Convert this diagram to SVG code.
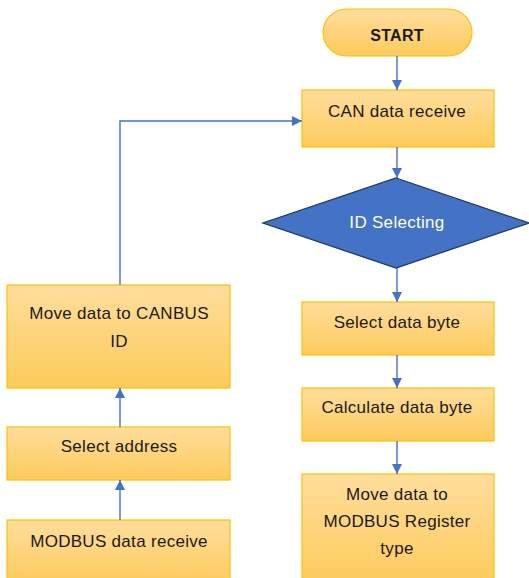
<svg xmlns="http://www.w3.org/2000/svg" width="529" height="578" viewBox="0 0 529 578">
<defs>
<linearGradient id="g" x1="0" y1="0" x2="0" y2="1">
<stop offset="0" stop-color="#FFDD9C"/>
<stop offset="1" stop-color="#FDCB5C"/>
</linearGradient>
<marker id="a" viewBox="0 0 10 10" refX="10" refY="5" markerWidth="10" markerHeight="10" markerUnits="userSpaceOnUse" orient="auto">
<path d="M0,0 L10,5 L0,10 z" fill="#4472C4"/>
</marker>
<style>
.box{fill:url(#g);stroke:#FFC000;stroke-width:1.2}
.t{font-family:"Liberation Sans",Arial,sans-serif;font-size:17px;letter-spacing:0.3px;fill:#1a1a1a;text-anchor:middle}
.c{fill:none;stroke:#4472C4;stroke-width:1.4}
</style>
</defs>
<rect width="529" height="578" fill="#ffffff"/>
<g id="start">
<rect class="box" x="323" y="9" width="149" height="47" rx="23.5"/>
<text class="t" x="397" y="41" font-weight="bold" style="font-size:16px">START</text>
</g>
<g id="can-receive">
<rect class="box" x="302" y="90" width="192" height="57"/>
<text class="t" x="397" y="117">CAN data receive</text>
</g>
<g id="id-selecting">
<polygon points="396,178 529,223 396,268 263,223" fill="#4472C4" stroke="#1F3864" stroke-width="1.3"/>
<text class="t" x="397" y="228" style="fill:#ffffff">ID Selecting</text>
</g>
<g id="select-byte">
<rect class="box" x="302" y="302" width="192" height="53"/>
<text class="t" x="397" y="328">Select data byte</text>
</g>
<g id="calc-byte">
<rect class="box" x="302" y="388" width="192" height="53"/>
<text class="t" x="397" y="413">Calculate data byte</text>
</g>
<g id="move-modbus">
<rect class="box" x="302" y="474" width="192" height="110"/>
<text class="t" x="397" y="500">Move data to</text>
<text class="t" x="397" y="527">MODBUS Register</text>
<text class="t" x="397" y="554">type</text>
</g>
<g id="move-canbus">
<rect class="box" x="7" y="285" width="223" height="103"/>
<text class="t" x="119" y="319">Move data to CANBUS</text>
<text class="t" x="119" y="347">ID</text>
</g>
<g id="select-address">
<rect class="box" x="7" y="427" width="223" height="53"/>
<text class="t" x="119" y="452">Select address</text>
</g>
<g id="modbus-receive">
<rect class="box" x="7" y="520" width="223" height="65"/>
<text class="t" x="119" y="547">MODBUS data receive</text>
</g>
<g id="connectors">
<line class="c" x1="397" y1="56" x2="397" y2="90" marker-end="url(#a)"/>
<line class="c" x1="397" y1="147" x2="397" y2="178" marker-end="url(#a)"/>
<line class="c" x1="397" y1="268" x2="397" y2="302" marker-end="url(#a)"/>
<line class="c" x1="397" y1="355" x2="397" y2="388" marker-end="url(#a)"/>
<line class="c" x1="397" y1="441" x2="397" y2="474" marker-end="url(#a)"/>
<line class="c" x1="397" y1="578" x2="397" y2="584"/>
<polyline class="c" points="120,285 120,121 302,121" marker-end="url(#a)"/>
<line class="c" x1="120" y1="427" x2="120" y2="388" marker-end="url(#a)"/>
<line class="c" x1="120" y1="520" x2="120" y2="480" marker-end="url(#a)"/>
<line class="c" x1="120" y1="578" x2="120" y2="585"/>
</g>
</svg>
